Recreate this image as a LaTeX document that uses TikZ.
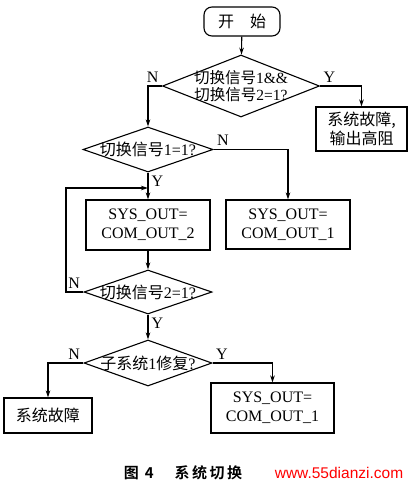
\documentclass[tikz,border=0pt]{standalone}
\usepackage{fontspec}
\setmainfont{Liberation Serif}
\newfontfamily\cjk[BoldFont=* Bold]{Noto Sans CJK SC}
\newfontfamily\wmfont{Liberation Sans}
\usetikzlibrary{arrows.meta}
\usetikzlibrary{shapes.geometric}
\newcommand{\zh}[1]{{\cjk #1}}
\tikzset{flow/.style = {draw, line width = 1.1pt, -{Stealth[length = 7pt, width = 4.5pt]}}}
\tikzset{term/.style = {draw, line width = 1.1pt, rounded corners = 8pt, minimum width = 76pt, minimum height = 29pt}}
\tikzset{proc/.style = {draw, line width = 1.1pt, align = center, inner sep = 0pt}}
\tikzset{decide/.style = {draw, line width = 1.1pt, diamond, inner sep = 0pt}}

\begin{document}
\begin{tikzpicture}[x = 1pt, y = -1pt, font = \fontsize{16}{19}\selectfont]
    \useasboundingbox (0, 0) rectangle (409, 485);

    \node [term] (start) at (242, 21.5) {\zh{开\hspace{1em}始}};
    \node [decide, minimum width = 157pt, minimum height = 62pt,
      label = {[align = center, font = \fontsize{15.5}{17.5}\selectfont]center:\zh{切换信号}1\&\&\\\zh{切换信号}2=1?}] (both) at (241, 86) {};
    \node [proc, minimum width = 91pt, minimum height = 44pt] (fault) at (361.5, 129) {\zh{系统故障,}\\\zh{输出高阻}};

    \node [decide, minimum width = 130pt, minimum height = 45pt,
      label = {center:\zh{切换信号}1=1?}] (sigone) at (148, 149.5) {};
    \node [proc, minimum width = 124pt, minimum height = 50pt] (outtwo) at (148, 225) {SYS\_OUT=\\COM\_OUT\_2};
    \node [proc, minimum width = 124pt, minimum height = 49pt] (outone) at (288, 224.5) {SYS\_OUT=\\COM\_OUT\_1};

    \node [decide, minimum width = 128pt, minimum height = 44pt,
      label = {center:\zh{切换信号}2=1?}] (sigtwo) at (148, 292) {};
    \node [decide, minimum width = 128pt, minimum height = 46pt,
      label = {center:\zh{子系统}1\zh{修复}?}] (repair) at (148, 363) {};

    \node [proc, minimum width = 88pt, minimum height = 35pt] (fail) at (48, 415.5) {\zh{系统故障}};
    \node [proc, minimum width = 123pt, minimum height = 50pt] (back) at (272.5, 408) {SYS\_OUT=\\COM\_OUT\_1};

    \coordinate (loop) at (66, 188);

    % connectors
    \draw [flow] (start) -- (both);
    \draw [flow] (both.east) -| (fault.north);
    \draw [flow] (both.west) -| (sigone.north);
    \draw [flow] (sigone.east) -| (outone.north);
    \draw [flow] (sigone.south) -- (outtwo.north);
    \draw [flow] (outtwo.south) -- (sigtwo.north);
    \draw [flow] (sigtwo.west) -| (loop) -- (loop -| sigone.south);
    \draw [flow] (sigtwo.south) -- (repair.north);
    \draw [flow] (repair.west) -| (fail.north);
    \draw [flow] (repair.east) -| (back.north);

    \node [above right] at (both.east) {Y};
    \node [above left] at (both.west) {N};
    \node [above right] at (sigone.east) {N};
    \node [below right] at (sigone.south) {Y};
    \node [above left] at (sigtwo.west) {N};
    \node [below right] at (sigtwo.south) {Y};
    \node [above left] at (repair.west) {N};
    \node [above right] at (repair.east) {Y};

    \node [font = \fontsize{15}{15}\selectfont\cjk\bfseries] (caption) at (183, 473) {图\hspace{0.4em}4\hspace{1.4em}系\,统\,切\,换};
    \node [text = red, font = \wmfont\fontsize{15.5}{15.5}\selectfont] (mark) at (339, 473) {www.55dianzi.com};
  \end{tikzpicture}
\end{document}
